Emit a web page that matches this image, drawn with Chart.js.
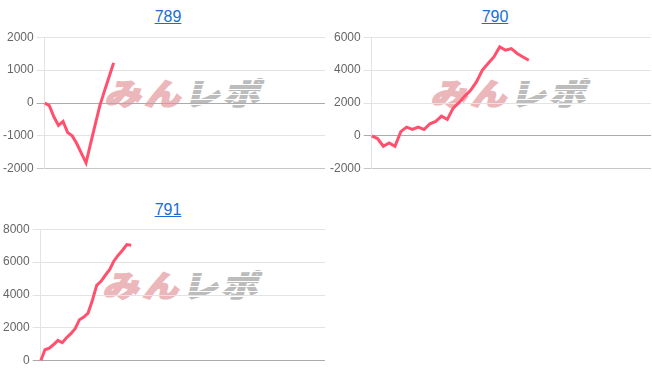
<!DOCTYPE html>
<html>
<head>
<meta charset="utf-8">
<script src="https://cdn.jsdelivr.net/npm/chart.js@4/dist/chart.umd.min.js"></script>
<style>
  html, body { margin: 0; padding: 0; background: #fff; }
  body { width: 652px; height: 382px; position: relative; overflow: hidden; font-family: "Liberation Sans", Arial, sans-serif; }
  .ttl { position: absolute; width: 120px; text-align: center; font-size: 16px; line-height: 18px; }
  .ttl a { color: #1a6dd8; text-decoration: underline; }
  .box { position: absolute; }
  .wm { position: absolute; white-space: nowrap; font-family: "Noto Sans CJK JP", sans-serif; font-weight: 900; font-size: 30px; line-height: 32px; transform: skewX(-14deg) scaleX(1.2); transform-origin: center; letter-spacing: 3px; }
  .wm .a { color: #ebb7ba; -webkit-text-stroke: 1.6px #ebb7ba; }
  .wm .b { position: relative; color: #bcbcbc; -webkit-text-stroke: 1.6px #bcbcbc; }
  .wm .b::after { content: ''; position: absolute; left: -4px; right: -4px; top: 0; bottom: 0; background: repeating-linear-gradient(to bottom, transparent 0 4px, #fff 4px 5px); }
</style>
</head>
<body>
<script>
// 789
const labels789 = Array.from({ length: 62 }, (_, i) => String(i + 1));
const data789 = [0, -80, -420, -680, -560, -900, -1000, -1240, -1530, -1820, -1230, -650, -80, 360, 790, 1220];
const ticks789 = { min: -2000, max: 2000, step: 1000 };

// 790
const labels790 = Array.from({ length: 49 }, (_, i) => String(i + 1));
const data790 = [0, -160, -630, -430, -630, 260, 530, 390, 530, 390, 730, 880, 1200, 1000, 1690, 2020, 2420, 2770, 3280, 3990, 4400, 4800, 5410, 5210, 5310, 5010, 4800, 4600];
const ticks790 = { min: -2000, max: 6000, step: 2000 };

// 791
const labels791 = Array.from({ length: 67 }, (_, i) => String(i + 1));
const data791 = [0, 670, 770, 990, 1240, 1100, 1400, 1650, 1950, 2500, 2660, 2900, 3680, 4590, 4830, 5200, 5540, 6070, 6420, 6720, 7070, 7030];
const ticks791 = { min: 0, max: 8000, step: 2000 };

const lineColor = 'rgb(255, 80, 110)';

function gridCol(min) {
  return (c) => {
    if (!c.tick) return '#e3e3e3';
    if (c.tick.value === 0) return '#ababab';
    if (c.tick.value === min) return '#c6c6c6';
    return '#e3e3e3';
  };
}

function addPanel(name, labels, data, ticks, pos) {
  const t = document.createElement('div');
  t.className = 'ttl';
  t.style.left = (pos.titleX - 60) + 'px';
  t.style.top = pos.titleY + 'px';
  t.innerHTML = `<a href="#">${name}</a>`;
  document.body.appendChild(t);

  const wm = document.createElement('div');
  wm.className = 'wm';
  wm.innerHTML = `<span class="a">みん</span><span class="b">レポ</span>`;
  document.body.appendChild(wm);

  const box = document.createElement('div');
  box.className = 'box';
  box.style.left = pos.x + 'px';
  box.style.top = pos.y + 'px';
  box.style.width = pos.w + 'px';
  box.style.height = pos.h + 'px';
  box.innerHTML = `<canvas></canvas>`;
  document.body.appendChild(box);

  const chart = new Chart(box.querySelector('canvas').getContext('2d'), {
    type: 'line',
    data: {
      labels: labels,
      datasets: [{ data: data, borderColor: lineColor, borderWidth: 3, pointRadius: 0, tension: 0, fill: false }]
    },
    options: {
      responsive: true, maintainAspectRatio: false, animation: false,
      layout: { padding: 0 },
      plugins: { legend: { display: false }, tooltip: { enabled: false } },
      scales: {
        x: { display: false },
        y: {
          min: ticks.min, max: ticks.max,
          border: { color: '#e3e3e3' },
          grid: { color: gridCol(ticks.min), tickColor: gridCol(ticks.min) },
          ticks: {
            stepSize: ticks.step, color: '#666',
            font: { family: '"Liberation Sans", Arial, sans-serif', size: 12 },
            callback: (v) => String(v)
          }
        }
      }
    }
  });

  // watermark sits behind the canvas, centred on the plot area
  const a = chart.chartArea;
  wm.style.left = (pos.x + (a.left + a.right) / 2 + 2 - wm.offsetWidth / 2) + 'px';
  wm.style.top = (pos.y + (a.top + a.bottom) / 2 - 11 - wm.offsetHeight / 2) + 'px';
  return chart;
}

addPanel('789', labels789, data789, ticks789, { titleX: 168, titleY: 8, x: 0, y: 27, w: 325, h: 152 });
addPanel('790', labels790, data790, ticks790, { titleX: 495, titleY: 8, x: 327, y: 27, w: 324, h: 152 });
addPanel('791', labels791, data791, ticks791, { titleX: 168, titleY: 201, x: 0, y: 219, w: 325, h: 152 });
</script>
</body>
</html>
